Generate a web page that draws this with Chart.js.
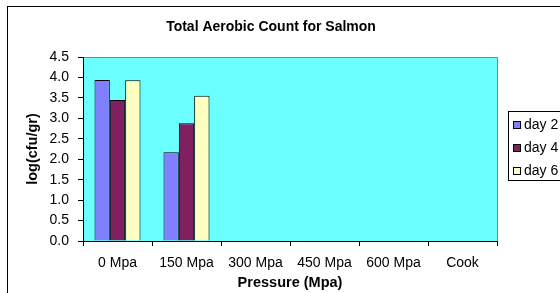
<!DOCTYPE html>
<html>
<head>
<meta charset="utf-8">
<script src="https://cdn.jsdelivr.net/npm/chart.js@4"></script>
<style>
  html, body { margin: 0; padding: 0; background: #fff; overflow: hidden; }
  #wrap { width: 560px; height: 293px; overflow: hidden; position: relative; }
  canvas { position: absolute; left: 0; top: 0; }
</style>
</head>
<body>
<div id="wrap"><canvas id="salmonChart" width="640" height="320"></canvas></div>
<script>
// Chart data
const categories = ['0 Mpa', '150 Mpa', '300 Mpa', '450 Mpa', '600 Mpa', 'Cook'];
const seriesNames = ['day 2', 'day 4', 'day 6'];
const day2 = [3.94, 2.17, null, null, null, null];
const day4 = [3.45, 2.88, null, null, null, null];
const day6 = [3.93, 3.55, null, null, null, null];
const yTicks = [0, 0.5, 1, 1.5, 2, 2.5, 3, 3.5, 4, 4.5];

const FONT = "'Liberation Sans', Arial, sans-serif";
const colors = ['#8080FF', '#802060', '#FFFFC0'];

// Background, frames, title and legend drawn around the plot
const excelFrame = {
  id: 'excelFrame',
  beforeDraw(chart) {
    const ctx = chart.ctx;
    const a = chart.chartArea;
    ctx.save();
    ctx.fillStyle = '#fff';
    ctx.fillRect(0, 0, chart.width, chart.height);
    // outer chart border
    ctx.strokeStyle = '#000';
    ctx.lineWidth = 1;
    ctx.strokeRect(7.5, 6.5, 700, 400);
    // plot area
    ctx.fillStyle = '#6BFFFF';
    ctx.fillRect(a.left, a.top, a.right - a.left, a.bottom - a.top);
    ctx.strokeStyle = '#808080';
    ctx.beginPath();
    ctx.moveTo(a.left, a.top + 0.5);
    ctx.lineTo(a.right + 0.5, a.top + 0.5);
    ctx.lineTo(a.right + 0.5, a.bottom);
    ctx.stroke();
    // title
    ctx.fillStyle = '#000';
    ctx.font = 'bold 14px ' + FONT;
    ctx.textAlign = 'center';
    ctx.textBaseline = 'middle';
    ctx.fillText('Total Aerobic Count for Salmon', 271, 27);
    ctx.restore();
  },
  afterDraw(chart) {
    const ctx = chart.ctx;
    ctx.save();
    // legend
    ctx.strokeStyle = '#000';
    ctx.lineWidth = 1;
    ctx.fillStyle = '#fff';
    ctx.fillRect(508.5, 111.5, 120, 69);
    ctx.strokeRect(508.5, 111.5, 120, 69);
    ctx.font = '14px ' + FONT;
    ctx.textAlign = 'left';
    ctx.textBaseline = 'middle';
    chart.data.datasets.forEach((ds, i) => {
      const y = 125 + i * 23;
      ctx.fillStyle = ds.backgroundColor;
      ctx.fillRect(513.5, y - 3.5, 7, 7);
      ctx.strokeStyle = '#000';
      ctx.strokeRect(513.5, y - 3.5, 7, 7);
      ctx.fillStyle = '#000';
      ctx.fillText(ds.label, 524, y + 0.5);
    });
    ctx.restore();
  }
};

const ctx = document.getElementById('salmonChart').getContext('2d');
const salmonChart = new Chart(ctx, {
  type: 'bar',
  data: {
    labels: categories,
    datasets: [day2, day4, day6].map((vals, i) => ({
      label: seriesNames[i],
      data: vals,
      backgroundColor: colors[i],
      borderColor: '#000',
      borderWidth: 1,
      categoryPercentage: 0.667,
      barPercentage: 1
    }))
  },
  options: {
    responsive: false,
    animation: false,
    devicePixelRatio: 1,
    layout: {
      padding: { left: 0, top: 57, right: 143, bottom: 27 }
    },
    plugins: {
      legend: { display: false },
      title: { display: false },
      tooltip: { enabled: false }
    },
    scales: {
      x: {
        afterFit(scale) { scale.height = 52; },
        grid: {
          display: true,
          drawOnChartArea: false,
          drawTicks: true,
          tickLength: 5,
          color: '#000'
        },
        border: { display: true, color: '#000' },
        ticks: {
          color: '#000',
          font: { family: FONT, size: 14 },
          padding: 9,
          maxRotation: 0
        },
        title: {
          display: true,
          text: 'Pressure (Mpa)',
          color: '#000',
          font: { family: FONT, size: 14.5, weight: 'bold' },
          padding: { top: 0, bottom: 1 }
        }
      },
      y: {
        min: 0,
        max: 4.5,
        afterFit(scale) { scale.width = 83; },
        afterBuildTicks(scale) {
          scale.ticks = yTicks.map(v => ({ value: v }));
        },
        grid: {
          display: true,
          drawOnChartArea: false,
          drawTicks: true,
          tickLength: 5,
          color: '#000'
        },
        border: { display: true, color: '#000' },
        ticks: {
          color: '#000',
          font: { family: FONT, size: 14 },
          padding: 9,
          callback: v => Number(v).toFixed(1)
        },
        title: {
          display: true,
          text: 'log(cfu/gr)',
          color: '#000',
          font: { family: FONT, size: 14.5, weight: 'bold' },
          padding: { top: 24, bottom: 0 }
        }
      }
    }
  },
  plugins: [excelFrame]
});
</script>
</body>
</html>
